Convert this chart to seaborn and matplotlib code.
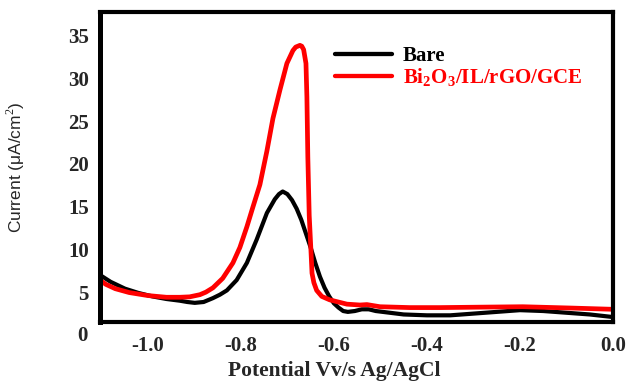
import numpy as np
import seaborn as sns
import matplotlib.pyplot as plt
import pandas as pd

sns.set_style('white')
plt.rcParams['font.family'] = 'serif'
plt.rcParams['font.serif'] = ['Liberation Serif', 'DejaVu Serif']
plt.rcParams['mathtext.fontset'] = 'custom'
plt.rcParams['mathtext.rm'] = 'Liberation Serif'
plt.rcParams['mathtext.bf'] = 'Liberation Serif:bold'
plt.rcParams['axes.unicode_minus'] = False

# potential (V vs Ag/AgCl) and current density
bare_x = [-1.103, -1.08, -1.049, -1.02, -0.99, -0.96, -0.931, -0.915, -0.899, -0.88,
          -0.86, -0.845, -0.83, -0.809, -0.787, -0.766, -0.744, -0.727, -0.718, -0.71,
          -0.70, -0.69, -0.68, -0.67, -0.66, -0.65, -0.64, -0.63, -0.62, -0.61,
          -0.60, -0.59, -0.58, -0.57, -0.555, -0.54, -0.525, -0.51, -0.48, -0.45,
          -0.40, -0.35, -0.30, -0.25, -0.20, -0.15, -0.10, -0.05, 0.0]
bare_y = [7.1, 6.3, 5.5, 5.0, 4.6, 4.3, 4.1, 3.95, 3.85, 3.95,
          4.4, 4.8, 5.3, 6.5, 8.5, 11.2, 14.3, 15.9, 16.5, 16.8,
          16.5, 15.8, 14.8, 13.5, 11.9, 10.3, 8.5, 6.9, 5.6, 4.6,
          3.8, 3.3, 2.9, 2.8, 2.9, 3.1, 3.1, 2.9, 2.7, 2.5,
          2.4, 2.4, 2.6, 2.8, 3.0, 2.9, 2.7, 2.5, 2.2]

mod_x = [-1.103, -1.09, -1.07, -1.04, -1.0, -0.96, -0.931, -0.91, -0.888, -0.875,
         -0.86, -0.839, -0.817, -0.802, -0.787, -0.774, -0.759, -0.744, -0.731, -0.716,
         -0.701, -0.688, -0.682, -0.673, -0.669, -0.665, -0.660, -0.658, -0.656, -0.653,
         -0.649, -0.647, -0.643, -0.637, -0.626, -0.609, -0.572, -0.544, -0.529, -0.501,
         -0.437, -0.372, -0.286, -0.194, -0.092, 0.0]
mod_y = [6.5, 6.0, 5.5, 5.05, 4.7, 4.5, 4.5, 4.55, 4.8, 5.1,
         5.6, 6.7, 8.5, 10.3, 12.7, 15.0, 17.6, 21.5, 25.3, 28.6,
         31.7, 33.2, 33.6, 33.8, 33.7, 33.3, 31.7, 27.8, 20.8, 14.0,
         9.6, 7.3, 6.2, 5.3, 4.6, 4.2, 3.7, 3.6, 3.65, 3.4,
         3.3, 3.3, 3.35, 3.4, 3.25, 3.1]

labels = ['Bare', r'Bi$_\mathbf{2}$O$_\mathbf{3}$/IL/rGO/GCE']
colors = ['#000000', '#ff0000']
y_ticks = [5, 10, 15, 20, 25, 30, 35]
x_ticks = [-1.0, -0.8, -0.6, -0.4, -0.2, 0.0]

df = pd.concat([
    pd.DataFrame({'E': bare_x, 'I': bare_y, 'electrode': labels[0]}),
    pd.DataFrame({'E': mod_x, 'I': mod_y, 'electrode': labels[1]}),
])
df.index = range(len(df))

fig = plt.figure(figsize=(6.32, 3.81), dpi=100)
ax = fig.add_axes([0.158, 0.155, 0.812, 0.814])

sns.lineplot(x='E', y='I', hue='electrode', data=df, palette=colors,
             sort=False, estimator=None, linewidth=3.1, ax=ax)
for line, lw in zip(ax.lines, [3.0, 3.4]):
    line.set_linewidth(lw)
    line.set_solid_capstyle('round')
    line.set_solid_joinstyle('round')

ax.set_xlim(-1.103, 0.0)
ax.set_ylim(1.63, 37.7)
ax.set_xticks(x_ticks)
ax.set_xticklabels(['%.1f' % v for v in x_ticks])
ax.set_yticks(y_ticks)
ax.tick_params(length=0, labelsize=15)
ax.tick_params(axis='y', pad=8)
ax.tick_params(axis='x', pad=10)
for t in ax.get_xticklabels() + ax.get_yticklabels():
    t.set_fontweight('bold')
ax.text(-0.024, 0, '0', transform=ax.get_yaxis_transform(), ha='right',
        va='center', fontsize=15, fontweight='bold', clip_on=False)

for s in ax.spines.values():
    s.set_linewidth(3.0)
    s.set_color('black')
ax.spines['left'].set_linewidth(3.6)

ax.set_xlabel('Potential Vv/s Ag/AgCl', fontsize=15.5, fontweight='bold')
ax.xaxis.set_label_coords(0.456, -0.125)
ax.set_ylabel('Current (μA/cm$^2$)', fontsize=12.5, family='Liberation Sans')
ax.yaxis.set_label_coords(-0.142, 0.5)

handles, _ = ax.get_legend_handles_labels()
leg = ax.legend(handles, labels, loc='upper left', bbox_to_anchor=(0.458, 0.89),
                frameon=False, borderaxespad=0, borderpad=0, handlelength=2.75,
                handletextpad=0.5, labelspacing=0.0,
                prop={'family': 'Liberation Serif', 'weight': 'bold', 'size': 15})
for txt, c in zip(leg.get_texts(), colors):
    txt.set_color(c)

fig.savefig('out.png', dpi=100)
